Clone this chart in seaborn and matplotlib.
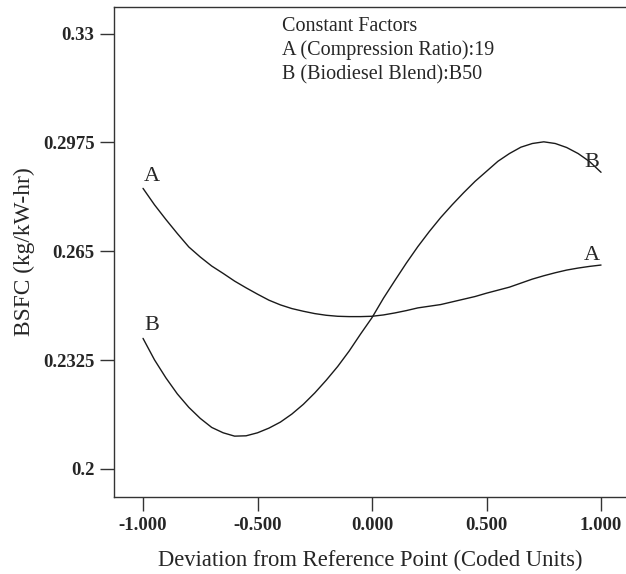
import matplotlib
matplotlib.use("Agg")
import matplotlib.pyplot as plt
import seaborn as sns
import pandas as pd

x_vals = [-1.00, -0.95, -0.90, -0.85, -0.80, -0.75, -0.70, -0.65, -0.60, -0.55, -0.50,
          -0.45, -0.40, -0.35, -0.30, -0.25, -0.20, -0.15, -0.10, -0.05, 0.00,
          0.05, 0.10, 0.15, 0.20, 0.25, 0.30, 0.35, 0.40, 0.45, 0.50,
          0.55, 0.60, 0.65, 0.70, 0.75, 0.80, 0.85, 0.90, 0.95, 1.00]
curve_a = [0.2838, 0.2789, 0.2745, 0.2703, 0.2663, 0.2633, 0.2606, 0.2584, 0.2561, 0.2541, 0.2522,
           0.2504, 0.2490, 0.2479, 0.2471, 0.2464, 0.2459, 0.2456, 0.2455, 0.2455, 0.2456,
           0.2460, 0.2466, 0.2473, 0.2481, 0.2486, 0.2491, 0.2499, 0.2507, 0.2515, 0.2525,
           0.2534, 0.2543, 0.2555, 0.2567, 0.2577, 0.2586, 0.2594, 0.2600, 0.2605, 0.2609]
curve_b = [0.2390, 0.2326, 0.2272, 0.2224, 0.2184, 0.2151, 0.2124, 0.2108, 0.2098, 0.2099, 0.2108,
           0.2122, 0.2140, 0.2164, 0.2193, 0.2227, 0.2265, 0.2306, 0.2352, 0.2403, 0.2452,
           0.2510, 0.2563, 0.2615, 0.2664, 0.2709, 0.2751, 0.2789, 0.2825, 0.2859, 0.2889,
           0.2919, 0.2942, 0.2961, 0.2972, 0.2977, 0.2972, 0.2960, 0.2942, 0.2918, 0.2886]
x_ticks = [-1.0, -0.5, 0.0, 0.5, 1.0]
x_tick_labels = ["-1.000", "-0.500", "0.000", "0.500", "1.000"]
y_ticks = [0.2, 0.2325, 0.265, 0.2975, 0.33]
y_tick_labels = ["0.2", "0.2325", "0.265", "0.2975", "0.33"]
factor_lines = ["Constant Factors", "A (Compression Ratio):19", "B (Biodiesel Blend):B50"]

sns.set_theme(style="white")
plt.rcParams['font.family'] = ['Liberation Serif', 'DejaVu Serif']

df = pd.DataFrame({
    "x": x_vals * 2,
    "y": curve_a + curve_b,
    "factor": ["A"] * len(x_vals) + ["B"] * len(x_vals),
})

fig = plt.figure(figsize=(6.26, 5.74), dpi=100)
ax = fig.add_axes([0.182, 0.134, 0.818, 0.854])
sns.lineplot(data=df, x="x", y="y", hue="factor", palette=["#1a1a1a", "#1a1a1a"],
             linewidth=1.0, legend=False, ax=ax)

ax.set_xlim(-1.127, 1.109)
ax.set_ylim(0.1916, 0.338)
ax.set_xticks(x_ticks)
ax.set_xticklabels(x_tick_labels, fontsize=13.5, fontweight="bold")
ax.set_yticks(y_ticks)
ax.set_yticklabels(y_tick_labels, fontsize=13.5, fontweight="bold")
ax.tick_params(axis="both", direction="out", length=10, width=1.0, color="#333333",
               bottom=True, left=True, pad=4)
for s in ["left", "bottom", "top"]:
    ax.spines[s].set_color("#333333")
    ax.spines[s].set_linewidth(1.0)
ax.spines["right"].set_visible(False)

ax.set_xlabel("Deviation from Reference Point (Coded Units)", fontsize=16.3, labelpad=12)
ax.set_ylabel("BSFC (kg/kW-hr)", fontsize=16.8, labelpad=6)

# curve labels
lab_kw = dict(textcoords="offset pixels", fontsize=16, ha="center", va="center")
ax.annotate("A", (x_vals[0], curve_a[0]), xytext=(9, 12), **lab_kw)
ax.annotate("B", (x_vals[0], curve_b[0]), xytext=(9, 13), **lab_kw)
ax.annotate("A", (x_vals[-1], curve_a[-1]), xytext=(-9, 10), **lab_kw)
ax.annotate("B", (x_vals[-1], curve_b[-1]), xytext=(-9, 10), **lab_kw)

for i, line in enumerate(factor_lines):
    ax.text(0.328, 0.96 - i * 0.049, line, transform=ax.transAxes, fontsize=14.5,
            ha="left", va="center")

fig.savefig("out.png", dpi=100)
